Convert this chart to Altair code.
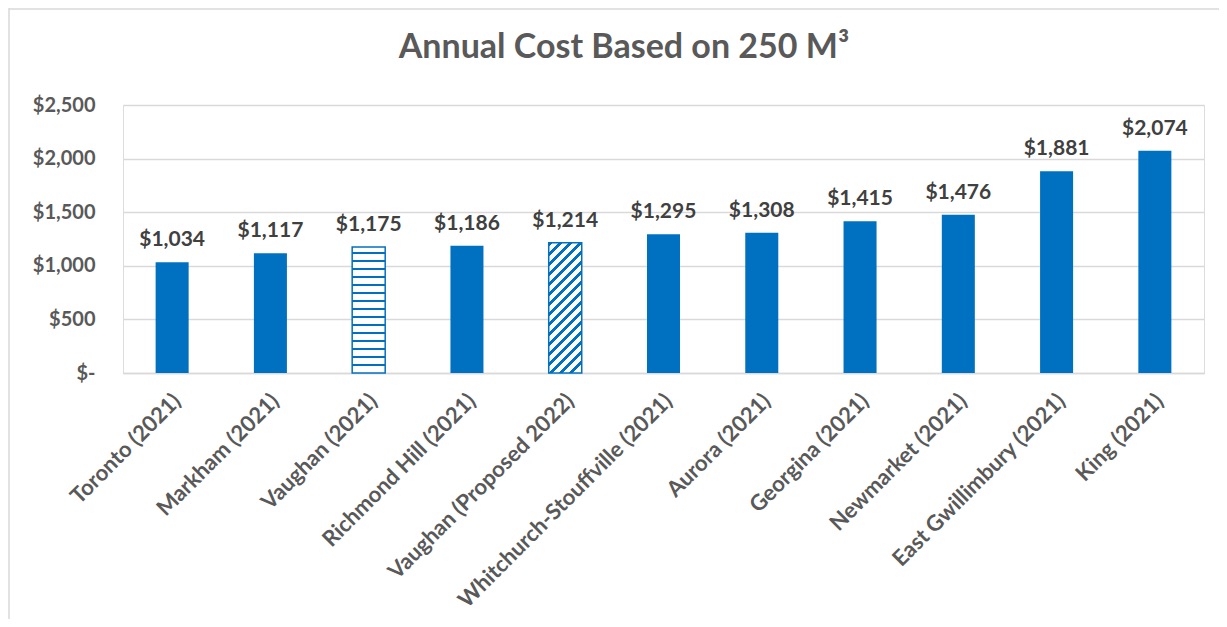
import altair as alt
import pandas as pd

cities = ["Toronto (2021)", "Markham (2021)", "Vaughan (2021)", "Richmond Hill (2021)",
          "Vaughan (Proposed 2022)", "Whitchurch-Stouffville (2021)", "Aurora (2021)",
          "Georgina (2021)", "Newmarket (2021)", "East Gwillimbury (2021)", "King (2021)"]
costs = [1034, 1117, 1175, 1186, 1214, 1295, 1308, 1415, 1476, 1881, 2074]
styles = ["solid", "solid", "horizontal", "solid", "diagonal", "solid",
          "solid", "solid", "solid", "solid", "solid"]
y_ticks = [0, 500, 1000, 1500, 2000, 2500]
title_text = "Annual Cost Based on 250 M³"

df = pd.DataFrame({"city": cities, "cost": costs, "style": styles})

BLUE = "#0070C0"
W, H = 1081, 268
YMAX = 2500
P_INNER = 0.664
step = W / len(cities)
bw = step * (1 - P_INNER)


def bar_h(v):
    return v / YMAX * H


# horizontal stripe gradient for Vaughan (2021)
h1 = bar_h(costs[styles.index("horizontal")])
stops_h = []
k = 0
while 8 * k + 7 < h1:
    a, b = (8 * k + 5) / h1, (8 * k + 7) / h1
    stops_h += [alt.GradientStop(color="white", offset=a), alt.GradientStop(color=BLUE, offset=a),
                alt.GradientStop(color=BLUE, offset=b), alt.GradientStop(color="white", offset=b)]
    k += 1
grad_h = alt.LinearGradient(gradient="linear", x1=0, y1=0, x2=0, y2=1,
                            stops=[alt.GradientStop(color="white", offset=0)] + stops_h +
                            [alt.GradientStop(color="white", offset=1)])

# diagonal stripe gradient for Vaughan (Proposed 2022)
h2 = bar_h(costs[styles.index("diagonal")])
L = bw + h2
c = L / (bw * bw + h2 * h2)
stops_d = []
k = 0
while 10 * k + 4 < L:
    a, b = (10 * k) / L, (10 * k + 4) / L
    stops_d += [alt.GradientStop(color="white", offset=a), alt.GradientStop(color=BLUE, offset=a),
                alt.GradientStop(color=BLUE, offset=b), alt.GradientStop(color="white", offset=b)]
    k += 1
grad_d = alt.LinearGradient(gradient="linear", x1=0, y1=0, x2=c * bw, y2=c * h2,
                            stops=[alt.GradientStop(color="white", offset=0)] + stops_d +
                            [alt.GradientStop(color="white", offset=1)])

x_enc = alt.X("city:N", sort=cities, title=None,
              scale=alt.Scale(paddingInner=P_INNER, paddingOuter=P_INNER / 2),
              axis=alt.Axis(labelAngle=-45, labelAlign="right", labelBaseline="middle",
                            labelFont="Lato", labelFontWeight="bold", labelFontSize=22,
                            labelColor="#595959", ticks=False, domainColor="#D9D9D9",
                            domainWidth=1.3, labelPadding=24, labelOffset=5,
                            labelLimit=400, grid=False))
y_enc = alt.Y("cost:Q", title=None,
              scale=alt.Scale(domain=[0, YMAX], nice=False),
              axis=alt.Axis(values=y_ticks, labelExpr="datum.value == 0 ? '$-\u00a0\u00a0\u00a0' : format(datum.value, '$,.0f')",
                            labelFont="Lato", labelFontWeight="bold", labelFontSize=20,
                            labelColor="#595959", ticks=False, domain=False,
                            gridColor="#D9D9D9", gridWidth=1.3, labelPadding=28,
                            minExtent=115, maxExtent=115))

base = alt.Chart(df)

solid = base.mark_bar(color=BLUE).encode(x=x_enc, y=y_enc).transform_filter("datum.style == 'solid'")
hbar = base.mark_bar(fill=grad_h, stroke=BLUE, strokeWidth=1.5).encode(x=x_enc, y=y_enc).transform_filter("datum.style == 'horizontal'")
dbar = base.mark_bar(fill=grad_d, stroke=BLUE, strokeWidth=1.5).encode(x=x_enc, y=y_enc).transform_filter("datum.style == 'diagonal'")

labels = base.mark_text(font="Lato", fontWeight="bold", fontSize=21, color="#404040",
                        baseline="alphabetic", dy=-16).encode(
    x=x_enc, y=y_enc, text=alt.Text("cost:Q", format="$,.0f"))

frame_df = pd.DataFrame({"a": [0]})
title_mark = alt.Chart(frame_df).mark_text(font="Lato", fontWeight="bold", fontSize=34,
                                           color="#595959", align="center",
                                           baseline="alphabetic").encode(
    x=alt.value(501), y=alt.value(-47), text=alt.value(title_text))
left_line = alt.Chart(frame_df).mark_rule(color="#D9D9D9", strokeWidth=1.5).encode(
    x=alt.value(-114), y=alt.value(-97), y2=alt.value(H + 246))
top_line = alt.Chart(frame_df).mark_rule(color="#D9D9D9", strokeWidth=1.5).encode(
    x=alt.value(-114), x2=alt.value(W + 15), y=alt.value(-96))

chart = alt.layer(solid, hbar, dbar, labels, title_mark, left_line, top_line).properties(
    width=W, height=H,
    autosize=alt.AutoSizeParams(type="none"),
    padding={"left": 115, "top": 97, "right": 15, "bottom": 246},
).configure_view(stroke=None).configure(background="white")

chart.save("out.html", embed_options={"renderer": "svg", "actions": False})
